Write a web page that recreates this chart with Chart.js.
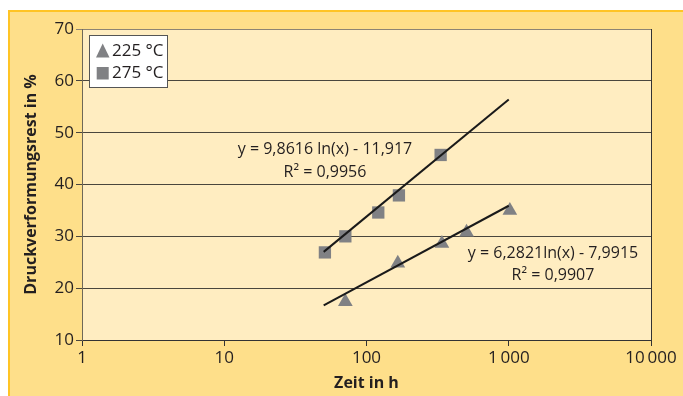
<!DOCTYPE html>
<html>
<head>
<meta charset="utf-8">
<script src="https://cdn.jsdelivr.net/npm/chart.js@4.4.0/dist/chart.umd.min.js"></script>
<style>
  html, body { margin: 0; padding: 0; background: #fff; }
  #panel { position: absolute; left: 8px; top: 10px; width: 675px; height: 386px;
           background: #fedf8a; border-top: 2px solid #ffc425; border-left: 2px solid #ffc425;
           box-sizing: border-box; }
  canvas { position: absolute; left: 0; top: 0; }
</style>
</head>
<body>
<div id="panel"></div>
<canvas id="chart" width="683" height="396"></canvas>
<script>
// tick values and labels
const xTicks = [1, 10, 100, 1000, 10000];
const xTickLabels = ['1', '10', '100', '1\u2009000', '10\u2009000'];

// 225 °C (triangles)
const hours225 = [71, 166, 339, 505, 1018];
const values225 = [17.4, 24.8, 28.6, 30.8, 35.0];

// 275 °C (squares)
const hours275 = [51, 71, 121, 169, 332];
const values275 = [26.9, 30.0, 34.6, 37.9, 45.7];

// trend line end points
const trendHours = [50, 1000];
const trend225 = [16.7, 35.9];
const trend275 = [27.0, 56.4];

const legendLabels = ['225 °C', '275 °C'];
const eq225 = ['y = 6,2821ln(x) - 7,9915', 'R² = 0,9907'];
const eq275 = ['y = 9,8616 ln(x) - 11,917', 'R² = 0,9956'];

const FONT = '"Open Sans", sans-serif';
const TEXT = '#231f20';
const MARK = '#808184';

const toPoints = (xs, ys) => xs.map((x, i) => ({x: x, y: ys[i]}));

const plotFrame = {
    id: 'plotFrame',
    beforeDraw(chart) {
        const {ctx, chartArea: a} = chart;
        ctx.save();
        ctx.fillStyle = '#ffedc1';
        ctx.fillRect(a.left, a.top, a.right - a.left, a.bottom - a.top);
        ctx.restore();
    },
    afterDraw(chart) {
        const {ctx, chartArea: a} = chart;
        ctx.save();
        ctx.strokeStyle = '#333';
        ctx.lineWidth = 1;
        ctx.beginPath();
        ctx.moveTo(Math.round(a.right) + 0.5, a.top);
        ctx.lineTo(Math.round(a.right) + 0.5, a.bottom);
        ctx.stroke();

        // equations
        ctx.fillStyle = TEXT;
        ctx.font = '16px ' + FONT;
        ctx.textAlign = 'center';
        ctx.textBaseline = 'middle';
        ctx.fillText(eq275[0], 325, 149);
        ctx.fillText(eq275[1], 325, 172);
        ctx.fillText(eq225[0], 553, 253);
        ctx.fillText(eq225[1], 553, 275);

        // legend box
        ctx.fillStyle = '#fff';
        ctx.fillRect(89.5, 35.5, 78, 52);
        ctx.strokeStyle = '#555';
        ctx.strokeRect(89.5, 35.5, 78, 52);
        ctx.fillStyle = MARK;
        ctx.beginPath();
        ctx.moveTo(102.7, 43.5);
        ctx.lineTo(109.5, 57.5);
        ctx.lineTo(96, 57.5);
        ctx.closePath();
        ctx.fill();
        ctx.fillRect(96.7, 67, 12, 12.5);
        ctx.fillStyle = TEXT;
        ctx.font = '17px ' + FONT;
        ctx.textAlign = 'left';
        ctx.fillText(legendLabels[0], 112, 51);
        ctx.fillText(legendLabels[1], 112, 73);
        ctx.restore();
    }
};

new Chart(document.getElementById('chart'), {
    type: 'scatter',
    data: {
        datasets: [
            {
                label: legendLabels[0],
                data: toPoints(hours225, values225),
                pointStyle: 'triangle',
                pointRadius: 8.5,
                backgroundColor: MARK,
                borderWidth: 0,
                order: 2
            },
            {
                label: legendLabels[1],
                data: toPoints(hours275, values275),
                pointStyle: 'rect',
                pointRadius: 8.7,
                backgroundColor: MARK,
                borderWidth: 0,
                order: 2
            },
            {
                type: 'line',
                data: toPoints(trendHours, trend225),
                borderColor: '#1a1a1a',
                borderWidth: 2,
                pointRadius: 0,
                order: 1
            },
            {
                type: 'line',
                data: toPoints(trendHours, trend275),
                borderColor: '#1a1a1a',
                borderWidth: 2,
                pointRadius: 0,
                order: 1
            }
        ]
    },
    options: {
        responsive: false,
        animation: false,
        events: [],
        layout: {padding: {left: 0, top: 29, right: 32, bottom: 0}},
        plugins: {
            legend: {display: false},
            tooltip: {enabled: false}
        },
        scales: {
            x: {
                type: 'logarithmic',
                min: 1,
                max: 10000,
                afterBuildTicks: scale => { scale.ticks = xTicks.map(v => ({value: v})); },
                afterFit: scale => { scale.height = 56; },
                ticks: {
                    autoSkip: false,
                    maxRotation: 0,
                    padding: 2,
                    color: TEXT,
                    font: {family: FONT, size: 17},
                    callback: (value) => xTickLabels[xTicks.indexOf(value)]
                },
                grid: {drawOnChartArea: false, tickLength: 6, color: '#333'},
                border: {color: '#333', width: 1},
                title: {
                    display: true,
                    text: 'Zeit in h',
                    color: TEXT,
                    font: {family: FONT, size: 16, weight: 'bold'},
                    padding: {top: 0, bottom: 3}
                }
            },
            y: {
                min: 10,
                max: 70,
                afterFit: scale => { scale.width = 82; },
                ticks: {
                    stepSize: 10,
                    padding: 2,
                    color: TEXT,
                    font: {family: FONT, size: 17}
                },
                grid: {
                    tickLength: 6,
                    color: ctx => ctx.tick && ctx.tick.value === 70 ? '#8c8473' : '#4a463d'
                },
                border: {color: '#6f6857', width: 1},
                title: {
                    display: true,
                    text: 'Druckverformungsrest in %',
                    color: TEXT,
                    font: {family: FONT, size: 16, weight: 'bold'},
                    padding: {top: 22, bottom: 0}
                }
            }
        }
    },
    plugins: [plotFrame]
});
</script>
</body>
</html>
